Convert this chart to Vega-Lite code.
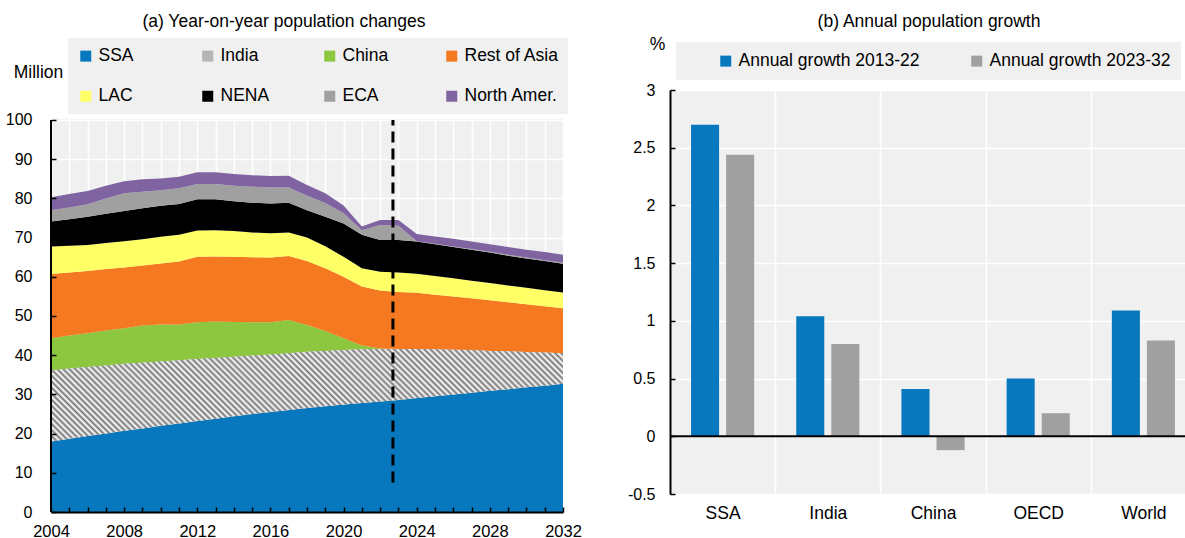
{
 "$schema": "https://vega.github.io/schema/vega-lite/v6.json",
 "padding": {"left": 5, "top": 12, "right": 0, "bottom": 0},
 "background": "white",
 "config": {
  "font": "Liberation Sans",
  "view": {"fill": "#f0f0f0", "stroke": null},
  "axis": {"labelColor": "#000", "titleColor": "#000", "labelFont": "Liberation Sans", "titleFont": "Liberation Sans"},
  "legend": {"labelFont": "Liberation Sans", "labelColor": "#000"},
  "title": {"fontWeight": "normal", "fontSize": 17.5, "color": "#000", "font": "Liberation Sans"}
 },
 "datasets": {
  "pop": [
   {"year":2004,"region":"SSA","value":18.0},{"year":2004,"region":"India","value":18.1},{"year":2004,"region":"China","value":8.2},{"year":2004,"region":"Rest of Asia","value":16.4},{"year":2004,"region":"LAC","value":7.0},{"year":2004,"region":"NENA","value":6.4},{"year":2004,"region":"ECA","value":2.9},{"year":2004,"region":"North Amer.","value":3.3},
   {"year":2005,"region":"SSA","value":18.7},{"year":2005,"region":"India","value":17.9},{"year":2005,"region":"China","value":8.4},{"year":2005,"region":"Rest of Asia","value":16.1},{"year":2005,"region":"LAC","value":6.8},{"year":2005,"region":"NENA","value":6.8},{"year":2005,"region":"ECA","value":3.0},{"year":2005,"region":"North Amer.","value":3.4},
   {"year":2006,"region":"SSA","value":19.4},{"year":2006,"region":"India","value":17.6},{"year":2006,"region":"China","value":8.6},{"year":2006,"region":"Rest of Asia","value":15.9},{"year":2006,"region":"LAC","value":6.6},{"year":2006,"region":"NENA","value":7.2},{"year":2006,"region":"ECA","value":3.2},{"year":2006,"region":"North Amer.","value":3.4},
   {"year":2007,"region":"SSA","value":20.0},{"year":2007,"region":"India","value":17.4},{"year":2007,"region":"China","value":8.9},{"year":2007,"region":"Rest of Asia","value":15.7},{"year":2007,"region":"LAC","value":6.6},{"year":2007,"region":"NENA","value":7.5},{"year":2007,"region":"ECA","value":3.9},{"year":2007,"region":"North Amer.","value":3.2},
   {"year":2008,"region":"SSA","value":20.7},{"year":2008,"region":"India","value":17.1},{"year":2008,"region":"China","value":9.1},{"year":2008,"region":"Rest of Asia","value":15.5},{"year":2008,"region":"LAC","value":6.7},{"year":2008,"region":"NENA","value":7.7},{"year":2008,"region":"ECA","value":4.5},{"year":2008,"region":"North Amer.","value":3.1},
   {"year":2009,"region":"SSA","value":21.3},{"year":2009,"region":"India","value":16.8},{"year":2009,"region":"China","value":9.5},{"year":2009,"region":"Rest of Asia","value":15.3},{"year":2009,"region":"LAC","value":6.7},{"year":2009,"region":"NENA","value":7.9},{"year":2009,"region":"ECA","value":4.2},{"year":2009,"region":"North Amer.","value":3.2},
   {"year":2010,"region":"SSA","value":22.0},{"year":2010,"region":"India","value":16.4},{"year":2010,"region":"China","value":9.4},{"year":2010,"region":"Rest of Asia","value":15.6},{"year":2010,"region":"LAC","value":6.8},{"year":2010,"region":"NENA","value":7.9},{"year":2010,"region":"ECA","value":4.0},{"year":2010,"region":"North Amer.","value":3.0},
   {"year":2011,"region":"SSA","value":22.6},{"year":2011,"region":"India","value":16.1},{"year":2011,"region":"China","value":9.1},{"year":2011,"region":"Rest of Asia","value":16.1},{"year":2011,"region":"LAC","value":6.8},{"year":2011,"region":"NENA","value":7.9},{"year":2011,"region":"ECA","value":4.0},{"year":2011,"region":"North Amer.","value":2.9},
   {"year":2012,"region":"SSA","value":23.2},{"year":2012,"region":"India","value":15.8},{"year":2012,"region":"China","value":9.4},{"year":2012,"region":"Rest of Asia","value":16.7},{"year":2012,"region":"LAC","value":6.7},{"year":2012,"region":"NENA","value":8.0},{"year":2012,"region":"ECA","value":3.9},{"year":2012,"region":"North Amer.","value":3.0},
   {"year":2013,"region":"SSA","value":23.8},{"year":2013,"region":"India","value":15.5},{"year":2013,"region":"China","value":9.3},{"year":2013,"region":"Rest of Asia","value":16.6},{"year":2013,"region":"LAC","value":6.7},{"year":2013,"region":"NENA","value":7.9},{"year":2013,"region":"ECA","value":3.9},{"year":2013,"region":"North Amer.","value":3.0},
   {"year":2014,"region":"SSA","value":24.4},{"year":2014,"region":"India","value":15.2},{"year":2014,"region":"China","value":8.9},{"year":2014,"region":"Rest of Asia","value":16.6},{"year":2014,"region":"LAC","value":6.6},{"year":2014,"region":"NENA","value":7.6},{"year":2014,"region":"ECA","value":3.9},{"year":2014,"region":"North Amer.","value":3.0},
   {"year":2015,"region":"SSA","value":25.0},{"year":2015,"region":"India","value":14.9},{"year":2015,"region":"China","value":8.5},{"year":2015,"region":"Rest of Asia","value":16.6},{"year":2015,"region":"LAC","value":6.3},{"year":2015,"region":"NENA","value":7.6},{"year":2015,"region":"ECA","value":4.1},{"year":2015,"region":"North Amer.","value":2.9},
   {"year":2016,"region":"SSA","value":25.5},{"year":2016,"region":"India","value":14.7},{"year":2016,"region":"China","value":8.2},{"year":2016,"region":"Rest of Asia","value":16.5},{"year":2016,"region":"LAC","value":6.2},{"year":2016,"region":"NENA","value":7.6},{"year":2016,"region":"ECA","value":4.1},{"year":2016,"region":"North Amer.","value":2.9},
   {"year":2017,"region":"SSA","value":26.0},{"year":2017,"region":"India","value":14.5},{"year":2017,"region":"China","value":8.5},{"year":2017,"region":"Rest of Asia","value":16.3},{"year":2017,"region":"LAC","value":6.0},{"year":2017,"region":"NENA","value":7.6},{"year":2017,"region":"ECA","value":3.9},{"year":2017,"region":"North Amer.","value":3.0},
   {"year":2018,"region":"SSA","value":26.5},{"year":2018,"region":"India","value":14.4},{"year":2018,"region":"China","value":6.8},{"year":2018,"region":"Rest of Asia","value":16.3},{"year":2018,"region":"LAC","value":6.0},{"year":2018,"region":"NENA","value":7.0},{"year":2018,"region":"ECA","value":3.7},{"year":2018,"region":"North Amer.","value":2.7},
   {"year":2019,"region":"SSA","value":27.0},{"year":2019,"region":"India","value":14.1},{"year":2019,"region":"China","value":5.1},{"year":2019,"region":"Rest of Asia","value":16.0},{"year":2019,"region":"LAC","value":5.6},{"year":2019,"region":"NENA","value":7.5},{"year":2019,"region":"ECA","value":3.5},{"year":2019,"region":"North Amer.","value":2.5},
   {"year":2020,"region":"SSA","value":27.4},{"year":2020,"region":"India","value":13.9},{"year":2020,"region":"China","value":3.0},{"year":2020,"region":"Rest of Asia","value":15.7},{"year":2020,"region":"LAC","value":5.1},{"year":2020,"region":"NENA","value":8.5},{"year":2020,"region":"ECA","value":2.6},{"year":2020,"region":"North Amer.","value":2.0},
   {"year":2021,"region":"SSA","value":27.8},{"year":2021,"region":"India","value":13.7},{"year":2021,"region":"China","value":1.0},{"year":2021,"region":"Rest of Asia","value":15.0},{"year":2021,"region":"LAC","value":4.7},{"year":2021,"region":"NENA","value":8.5},{"year":2021,"region":"ECA","value":1.2},{"year":2021,"region":"North Amer.","value":0.9},
   {"year":2022,"region":"SSA","value":28.2},{"year":2022,"region":"India","value":13.4},{"year":2022,"region":"China","value":0.1},{"year":2022,"region":"Rest of Asia","value":14.8},{"year":2022,"region":"LAC","value":4.8},{"year":2022,"region":"NENA","value":8.1},{"year":2022,"region":"ECA","value":3.8},{"year":2022,"region":"North Amer.","value":1.3},
   {"year":2023,"region":"SSA","value":28.6},{"year":2023,"region":"India","value":13.0},{"year":2023,"region":"China","value":0},{"year":2023,"region":"Rest of Asia","value":14.5},{"year":2023,"region":"LAC","value":5.0},{"year":2023,"region":"NENA","value":8.3},{"year":2023,"region":"ECA","value":3.6},{"year":2023,"region":"North Amer.","value":1.5},
   {"year":2024,"region":"SSA","value":29.1},{"year":2024,"region":"India","value":12.5},{"year":2024,"region":"China","value":0},{"year":2024,"region":"Rest of Asia","value":14.3},{"year":2024,"region":"LAC","value":4.9},{"year":2024,"region":"NENA","value":8.2},{"year":2024,"region":"ECA","value":0.1},{"year":2024,"region":"North Amer.","value":1.8},
   {"year":2025,"region":"SSA","value":29.5},{"year":2025,"region":"India","value":12.0},{"year":2025,"region":"China","value":0},{"year":2025,"region":"Rest of Asia","value":13.9},{"year":2025,"region":"LAC","value":4.8},{"year":2025,"region":"NENA","value":8.1},{"year":2025,"region":"ECA","value":0.1},{"year":2025,"region":"North Amer.","value":1.9},
   {"year":2026,"region":"SSA","value":30.0},{"year":2026,"region":"India","value":11.4},{"year":2026,"region":"China","value":0},{"year":2026,"region":"Rest of Asia","value":13.6},{"year":2026,"region":"LAC","value":4.6},{"year":2026,"region":"NENA","value":8.0},{"year":2026,"region":"ECA","value":0.1},{"year":2026,"region":"North Amer.","value":2.0},
   {"year":2027,"region":"SSA","value":30.4},{"year":2027,"region":"India","value":10.9},{"year":2027,"region":"China","value":0},{"year":2027,"region":"Rest of Asia","value":13.2},{"year":2027,"region":"LAC","value":4.5},{"year":2027,"region":"NENA","value":7.9},{"year":2027,"region":"ECA","value":0.2},{"year":2027,"region":"North Amer.","value":1.9},
   {"year":2028,"region":"SSA","value":30.9},{"year":2028,"region":"India","value":10.2},{"year":2028,"region":"China","value":0},{"year":2028,"region":"Rest of Asia","value":12.9},{"year":2028,"region":"LAC","value":4.4},{"year":2028,"region":"NENA","value":7.8},{"year":2028,"region":"ECA","value":0.2},{"year":2028,"region":"North Amer.","value":1.9},
   {"year":2029,"region":"SSA","value":31.3},{"year":2029,"region":"India","value":9.7},{"year":2029,"region":"China","value":0},{"year":2029,"region":"Rest of Asia","value":12.5},{"year":2029,"region":"LAC","value":4.3},{"year":2029,"region":"NENA","value":7.6},{"year":2029,"region":"ECA","value":0.2},{"year":2029,"region":"North Amer.","value":2.0},
   {"year":2030,"region":"SSA","value":31.8},{"year":2030,"region":"India","value":9.0},{"year":2030,"region":"China","value":0},{"year":2030,"region":"Rest of Asia","value":12.2},{"year":2030,"region":"LAC","value":4.2},{"year":2030,"region":"NENA","value":7.5},{"year":2030,"region":"ECA","value":0.2},{"year":2030,"region":"North Amer.","value":2.0},
   {"year":2031,"region":"SSA","value":32.2},{"year":2031,"region":"India","value":8.5},{"year":2031,"region":"China","value":0},{"year":2031,"region":"Rest of Asia","value":11.8},{"year":2031,"region":"LAC","value":4.1},{"year":2031,"region":"NENA","value":7.4},{"year":2031,"region":"ECA","value":0.2},{"year":2031,"region":"North Amer.","value":2.1},
   {"year":2032,"region":"SSA","value":32.7},{"year":2032,"region":"India","value":7.8},{"year":2032,"region":"China","value":0},{"year":2032,"region":"Rest of Asia","value":11.5},{"year":2032,"region":"LAC","value":4.0},{"year":2032,"region":"NENA","value":7.3},{"year":2032,"region":"ECA","value":0.3},{"year":2032,"region":"North Amer.","value":2.0}
  ],
  "growth": [
   {"area":"SSA","series":"Annual growth 2013-22","value":2.70},{"area":"SSA","series":"Annual growth 2023-32","value":2.44},
   {"area":"India","series":"Annual growth 2013-22","value":1.04},{"area":"India","series":"Annual growth 2023-32","value":0.80},
   {"area":"China","series":"Annual growth 2013-22","value":0.41},{"area":"China","series":"Annual growth 2023-32","value":-0.12},
   {"area":"OECD","series":"Annual growth 2013-22","value":0.50},{"area":"OECD","series":"Annual growth 2023-32","value":0.20},
   {"area":"World","series":"Annual growth 2013-22","value":1.09},{"area":"World","series":"Annual growth 2023-32","value":0.83}
  ]
 },
 "spacing": 45,
 "resolve": {"scale": {"color": "independent", "x": "independent", "y": "independent"}, "legend": {"color": "independent"}},
 "hconcat": [
  {
   "width": 512,
   "height": 422,
   "title": {"text": "(a) Year-on-year population changes", "anchor": "middle", "offset": 8, "dx": -23},
   "resolve": {"axis": {"x": "independent", "y": "independent"}},
   "layer": [
    {
     "data": {"name": "pop"},
     "transform": [
      {"calculate": "indexof(['SSA','India','China','Rest of Asia','LAC','NENA','ECA','North Amer.'], datum.region)", "as": "k"},
      {"stack": "value", "groupby": ["year"], "sort": [{"field": "k", "order": "ascending"}], "as": ["v0", "v1"]}
     ],
     "mark": {"type": "area", "interpolate": "linear"},
     "encoding": {
      "x": {"field": "year", "type": "quantitative", "scale": {"domain": [2004, 2032], "nice": false, "zero": false},
            "axis": {"orient": "bottom", "title": null, "values": [2004,2005,2006,2007,2008,2009,2010,2011,2012,2013,2014,2015,2016,2017,2018,2019,2020,2021,2022,2023,2024,2025,2026,2027,2028,2029,2030,2031,2032], "grid": true, "gridColor": "#ffffff", "gridWidth": 1.5, "domain": false, "ticks": false, "labels": false, "zindex": 0}},
      "y": {"field": "v1", "type": "quantitative", "scale": {"domain": [0, 107.653], "nice": false},
            "axis": {"orient": "left", "title": null, "values": [0,10,20,30,40,50,60,70,80,90,100], "grid": true, "gridColor": "#ffffff", "gridWidth": 1.5, "domain": false, "ticks": false, "labels": false, "zindex": 0}},
      "y2": {"field": "v0"},
      "color": {
       "field": "region", "type": "nominal",
       "scale": {"domain": ["SSA","India","China","Rest of Asia","LAC","NENA","ECA","North Amer."],
                 "range": ["#0778bd","#b5b5b5","#8dc63f","#f47920","#ffff66","#000000","#a0a0a0","#8064a2"]},
       "legend": {
        "orient": "none", "legendX": 17, "legendY": -52, "title": null, "direction": "horizontal", "columns": 4, "gridAlign": "all",
        "symbolType": "square", "symbolSize": 121, "symbolStrokeWidth": 0, "labelFontSize": 17.5, "labelOffset": 4,
        "columnPadding": 6, "rowPadding": 21.5, "padding": 9, "fillColor": "#f0f0f0", "labelLimit": 300
       }
      }
     }
    },
    {
     "data": {"name": "pop"},
     "transform": [
      {"calculate": "indexof(['SSA','India','China','Rest of Asia','LAC','NENA','ECA','North Amer.'], datum.region)", "as": "k"},
      {"stack": "value", "groupby": ["year"], "sort": [{"field": "k", "order": "ascending"}], "as": ["v0", "v1"]},
      {"filter": "datum.region === 'India'"}
     ],
     "mark": {"type": "area", "interpolate": "linear", "fill": {"gradient": "linear", "x1": 0, "y1": 1, "x2": 1.1434, "y2": 0.7934, "stops": [
      {"offset":0,"color":"#777"},{"offset":0.005,"color":"#fff"},{"offset":0.01,"color":"#777"},{"offset":0.015,"color":"#fff"},{"offset":0.02,"color":"#777"},{"offset":0.025,"color":"#fff"},{"offset":0.03,"color":"#777"},{"offset":0.035,"color":"#fff"},{"offset":0.04,"color":"#777"},{"offset":0.045,"color":"#fff"},
      {"offset":0.05,"color":"#777"},{"offset":0.055,"color":"#fff"},{"offset":0.06,"color":"#777"},{"offset":0.065,"color":"#fff"},{"offset":0.07,"color":"#777"},{"offset":0.075,"color":"#fff"},{"offset":0.08,"color":"#777"},{"offset":0.085,"color":"#fff"},{"offset":0.09,"color":"#777"},{"offset":0.095,"color":"#fff"},
      {"offset":0.1,"color":"#777"},{"offset":0.105,"color":"#fff"},{"offset":0.11,"color":"#777"},{"offset":0.115,"color":"#fff"},{"offset":0.12,"color":"#777"},{"offset":0.125,"color":"#fff"},{"offset":0.13,"color":"#777"},{"offset":0.135,"color":"#fff"},{"offset":0.14,"color":"#777"},{"offset":0.145,"color":"#fff"},
      {"offset":0.15,"color":"#777"},{"offset":0.155,"color":"#fff"},{"offset":0.16,"color":"#777"},{"offset":0.165,"color":"#fff"},{"offset":0.17,"color":"#777"},{"offset":0.175,"color":"#fff"},{"offset":0.18,"color":"#777"},{"offset":0.185,"color":"#fff"},{"offset":0.19,"color":"#777"},{"offset":0.195,"color":"#fff"},
      {"offset":0.2,"color":"#777"},{"offset":0.205,"color":"#fff"},{"offset":0.21,"color":"#777"},{"offset":0.215,"color":"#fff"},{"offset":0.22,"color":"#777"},{"offset":0.225,"color":"#fff"},{"offset":0.23,"color":"#777"},{"offset":0.235,"color":"#fff"},{"offset":0.24,"color":"#777"},{"offset":0.245,"color":"#fff"},
      {"offset":0.25,"color":"#777"},{"offset":0.255,"color":"#fff"},{"offset":0.26,"color":"#777"},{"offset":0.265,"color":"#fff"},{"offset":0.27,"color":"#777"},{"offset":0.275,"color":"#fff"},{"offset":0.28,"color":"#777"},{"offset":0.285,"color":"#fff"},{"offset":0.29,"color":"#777"},{"offset":0.295,"color":"#fff"},
      {"offset":0.3,"color":"#777"},{"offset":0.305,"color":"#fff"},{"offset":0.31,"color":"#777"},{"offset":0.315,"color":"#fff"},{"offset":0.32,"color":"#777"},{"offset":0.325,"color":"#fff"},{"offset":0.33,"color":"#777"},{"offset":0.335,"color":"#fff"},{"offset":0.34,"color":"#777"},{"offset":0.345,"color":"#fff"},
      {"offset":0.35,"color":"#777"},{"offset":0.355,"color":"#fff"},{"offset":0.36,"color":"#777"},{"offset":0.365,"color":"#fff"},{"offset":0.37,"color":"#777"},{"offset":0.375,"color":"#fff"},{"offset":0.38,"color":"#777"},{"offset":0.385,"color":"#fff"},{"offset":0.39,"color":"#777"},{"offset":0.395,"color":"#fff"},
      {"offset":0.4,"color":"#777"},{"offset":0.405,"color":"#fff"},{"offset":0.41,"color":"#777"},{"offset":0.415,"color":"#fff"},{"offset":0.42,"color":"#777"},{"offset":0.425,"color":"#fff"},{"offset":0.43,"color":"#777"},{"offset":0.435,"color":"#fff"},{"offset":0.44,"color":"#777"},{"offset":0.445,"color":"#fff"},
      {"offset":0.45,"color":"#777"},{"offset":0.455,"color":"#fff"},{"offset":0.46,"color":"#777"},{"offset":0.465,"color":"#fff"},{"offset":0.47,"color":"#777"},{"offset":0.475,"color":"#fff"},{"offset":0.48,"color":"#777"},{"offset":0.485,"color":"#fff"},{"offset":0.49,"color":"#777"},{"offset":0.495,"color":"#fff"},
      {"offset":0.5,"color":"#777"},{"offset":0.505,"color":"#fff"},{"offset":0.51,"color":"#777"},{"offset":0.515,"color":"#fff"},{"offset":0.52,"color":"#777"},{"offset":0.525,"color":"#fff"},{"offset":0.53,"color":"#777"},{"offset":0.535,"color":"#fff"},{"offset":0.54,"color":"#777"},{"offset":0.545,"color":"#fff"},
      {"offset":0.55,"color":"#777"},{"offset":0.555,"color":"#fff"},{"offset":0.56,"color":"#777"},{"offset":0.565,"color":"#fff"},{"offset":0.57,"color":"#777"},{"offset":0.575,"color":"#fff"},{"offset":0.58,"color":"#777"},{"offset":0.585,"color":"#fff"},{"offset":0.59,"color":"#777"},{"offset":0.595,"color":"#fff"},
      {"offset":0.6,"color":"#777"},{"offset":0.605,"color":"#fff"},{"offset":0.61,"color":"#777"},{"offset":0.615,"color":"#fff"},{"offset":0.62,"color":"#777"},{"offset":0.625,"color":"#fff"},{"offset":0.63,"color":"#777"},{"offset":0.635,"color":"#fff"},{"offset":0.64,"color":"#777"},{"offset":0.645,"color":"#fff"},
      {"offset":0.65,"color":"#777"},{"offset":0.655,"color":"#fff"},{"offset":0.66,"color":"#777"},{"offset":0.665,"color":"#fff"},{"offset":0.67,"color":"#777"},{"offset":0.675,"color":"#fff"},{"offset":0.68,"color":"#777"},{"offset":0.685,"color":"#fff"},{"offset":0.69,"color":"#777"},{"offset":0.695,"color":"#fff"},
      {"offset":0.7,"color":"#777"},{"offset":0.705,"color":"#fff"},{"offset":0.71,"color":"#777"},{"offset":0.715,"color":"#fff"},{"offset":0.72,"color":"#777"},{"offset":0.725,"color":"#fff"},{"offset":0.73,"color":"#777"},{"offset":0.735,"color":"#fff"},{"offset":0.74,"color":"#777"},{"offset":0.745,"color":"#fff"},
      {"offset":0.75,"color":"#777"},{"offset":0.755,"color":"#fff"},{"offset":0.76,"color":"#777"},{"offset":0.765,"color":"#fff"},{"offset":0.77,"color":"#777"},{"offset":0.775,"color":"#fff"},{"offset":0.78,"color":"#777"},{"offset":0.785,"color":"#fff"},{"offset":0.79,"color":"#777"},{"offset":0.795,"color":"#fff"},
      {"offset":0.8,"color":"#777"},{"offset":0.805,"color":"#fff"},{"offset":0.81,"color":"#777"},{"offset":0.815,"color":"#fff"},{"offset":0.82,"color":"#777"},{"offset":0.825,"color":"#fff"},{"offset":0.83,"color":"#777"},{"offset":0.835,"color":"#fff"},{"offset":0.84,"color":"#777"},{"offset":0.845,"color":"#fff"},
      {"offset":0.85,"color":"#777"},{"offset":0.855,"color":"#fff"},{"offset":0.86,"color":"#777"},{"offset":0.865,"color":"#fff"},{"offset":0.87,"color":"#777"},{"offset":0.875,"color":"#fff"},{"offset":0.88,"color":"#777"},{"offset":0.885,"color":"#fff"},{"offset":0.89,"color":"#777"},{"offset":0.895,"color":"#fff"},
      {"offset":0.9,"color":"#777"},{"offset":0.905,"color":"#fff"},{"offset":0.91,"color":"#777"},{"offset":0.915,"color":"#fff"},{"offset":0.92,"color":"#777"},{"offset":0.925,"color":"#fff"},{"offset":0.93,"color":"#777"},{"offset":0.935,"color":"#fff"},{"offset":0.94,"color":"#777"},{"offset":0.945,"color":"#fff"},
      {"offset":0.95,"color":"#777"},{"offset":0.955,"color":"#fff"},{"offset":0.96,"color":"#777"},{"offset":0.965,"color":"#fff"},{"offset":0.97,"color":"#777"},{"offset":0.975,"color":"#fff"},{"offset":0.98,"color":"#777"},{"offset":0.985,"color":"#fff"},{"offset":0.99,"color":"#777"},{"offset":0.995,"color":"#fff"},
      {"offset":1,"color":"#777"}
     ]}},
     "encoding": {
      "x": {"field": "year", "type": "quantitative", "scale": {"domain": [2004, 2032], "nice": false, "zero": false}, "axis": null},
      "y": {"field": "v1", "type": "quantitative", "scale": {"domain": [0, 107.653], "nice": false}, "axis": null},
      "y2": {"field": "v0"}
     }
    },
    {
     "data": {"values": [{"x0": 2004, "x1": 2032, "ylo": 100.3, "yhi": 107.653}]},
     "mark": {"type": "rect", "color": "#ffffff"},
     "encoding": {
      "x": {"field": "x0", "type": "quantitative", "axis": null},
      "x2": {"field": "x1"},
      "y": {"field": "ylo", "type": "quantitative", "axis": null},
      "y2": {"field": "yhi"}
     }
    },
    {
     "data": {"values": [{"ax": 2004, "b": 0, "t": 100}]},
     "mark": {"type": "rule", "color": "#000000", "strokeWidth": 2},
     "encoding": {
      "x": {"field": "ax", "type": "quantitative", "axis": null},
      "y": {"field": "b", "type": "quantitative", "axis": null},
      "y2": {"field": "t"}
     }
    },
    {
     "data": {"values": [{"yr": 2022.7, "lo": 7.5, "hi": 100}]},
     "mark": {"type": "rule", "color": "#000000", "strokeWidth": 3, "strokeDash": [11, 6]},
     "encoding": {
      "x": {"field": "yr", "type": "quantitative", "scale": {"domain": [2004, 2032], "nice": false, "zero": false},
            "axis": {"orient": "bottom", "title": null, "zindex": 1, "grid": false, "values": [2004,2005,2006,2007,2008,2009,2010,2011,2012,2013,2014,2015,2016,2017,2018,2019,2020,2021,2022,2023,2024,2025,2026,2027,2028,2029,2030,2031,2032],
                     "format": "d", "labelExpr": "datum.value % 4 === 0 ? datum.label : ''", "labelFlush": false, "labelOverlap": false, "labelFontSize": 16.5, "labelPadding": 16,
                     "domainColor": "#000", "domainWidth": 2, "tickColor": "#000", "tickWidth": 1.5, "tickSize": -5}},
      "y": {"field": "lo", "type": "quantitative", "scale": {"domain": [0, 107.653], "nice": false},
            "axis": {"orient": "left", "zindex": 1, "grid": false, "domain": false, "values": [0,10,20,30,40,50,60,70,80,90,100], "labelFontSize": 16, "labelPadding": 24,
                     "tickColor": "#000", "tickWidth": 1.5, "tickSize": -5,
                     "title": "Million", "titleAngle": 0, "titleX": -13, "titleY": -18, "titleAlign": "center", "titleBaseline": "middle", "titleFontSize": 17.5, "titleFontWeight": "normal"}},
      "y2": {"field": "hi"}
     }
    }
   ]
  },
  {
   "width": 526,
   "height": 404,
   "title": {"text": "(b) Annual population growth", "anchor": "middle", "offset": 5, "dx": -4},
   "resolve": {"axis": {"y": "independent"}},
   "layer": [
    {
     "data": {"name": "growth"},
     "mark": {"type": "bar"},
     "encoding": {
      "x": {"field": "area", "type": "nominal", "sort": ["SSA","India","China","OECD","World"], "scale": {"paddingInner": 0, "paddingOuter": 0},
            "axis": {"title": null, "labelAngle": 0, "domain": false, "ticks": false, "tickBand": "extent", "grid": true, "gridColor": "#ffffff", "gridWidth": 1.5, "labelFontSize": 17.5, "labelPadding": 10}},
      "xOffset": {"field": "series", "type": "nominal", "sort": ["Annual growth 2013-22","Annual growth 2023-32"], "scale": {"paddingInner": 0.2, "paddingOuter": 0.6}},
      "y": {"field": "value", "type": "quantitative", "scale": {"domain": [-0.5, 3], "nice": false, "zero": false},
            "axis": {"values": [-0.5,0,0.5,1,1.5,2,2.5,3], "labelExpr": "datum.value + ''", "grid": true, "gridColor": "#ffffff", "gridWidth": 1.5, "labelFontSize": 16, "labelPadding": 20,
                     "domainColor": "#000", "domainWidth": 2, "tickColor": "#000", "tickWidth": 1.5, "tickSize": -5,
                     "title": "%", "titleAngle": 0, "titleX": -13, "titleY": -46, "titleAlign": "center", "titleBaseline": "middle", "titleFontSize": 17.5, "titleFontWeight": "normal"}},
      "color": {
       "field": "series", "type": "nominal",
       "scale": {"domain": ["Annual growth 2013-22","Annual growth 2023-32"], "range": ["#0778bd","#a0a0a0"]},
       "legend": {
        "orient": "none", "legendX": 6, "legendY": -48, "title": " ", "titleOrient": "left", "titlePadding": 31, "titleFontSize": 17.5,
        "direction": "horizontal", "symbolType": "square", "symbolSize": 121, "symbolStrokeWidth": 0, "labelFontSize": 17.5, "labelOffset": 4,
        "columnPadding": 48, "padding": 10, "fillColor": "#f0f0f0", "labelLimit": 400,
        "labelExpr": "datum.label === 'Annual growth 2023-32' ? datum.label + '          ' : datum.label"
       }
      }
     }
    },
    {
     "data": {"values": [{"z": 0}]},
     "mark": {"type": "rule", "color": "#000000", "strokeWidth": 2},
     "encoding": {"y": {"field": "z", "type": "quantitative", "axis": null}}
    }
   ]
  }
 ]
}
